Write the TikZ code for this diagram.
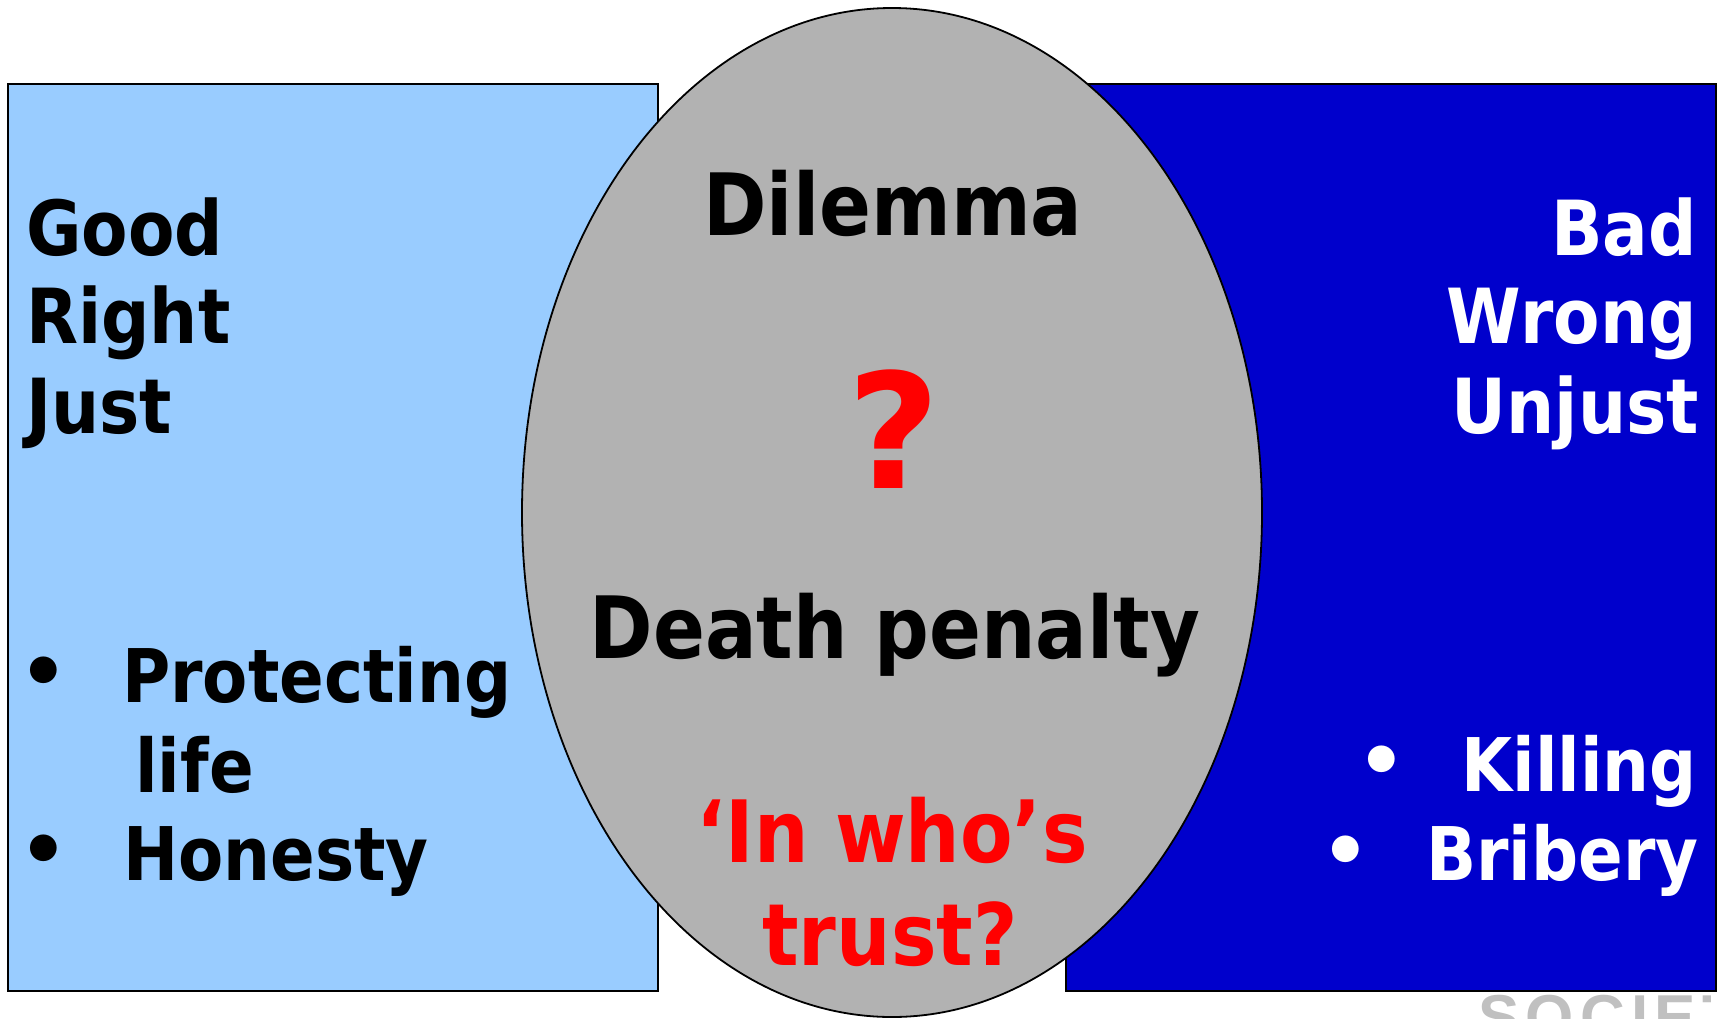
\documentclass[tikz,border=0pt]{standalone}
\usepackage{fontspec}
\newfontfamily\tah{DejaVu Sans}[FakeStretch=0.89]
\newfontfamily\tahw{DejaVu Sans}
\newfontfamily\soc{Liberation Sans}[LetterSpace=10]
\definecolor{lblue}{HTML}{99CCFF}
\definecolor{dblue}{HTML}{0000CC}
\definecolor{egray}{HTML}{B2B2B2}
\definecolor{tred}{HTML}{FF0000}
\definecolor{socgray}{HTML}{C0C0C0}
\tikzset{
  panel/.style={draw=black, line width=1.6pt},
  big/.style={inner sep=0pt, font=\tah\bfseries\fontsize{76}{90}\selectfont},
  item/.style={inner sep=0pt, font=\tah\bfseries\fontsize{74}{88}\selectfont},
  mid/.style={inner sep=0pt, font=\tah\bfseries\fontsize{86}{100}\selectfont},
  bul/.style={inner sep=0pt, font=\tahw\bfseries\fontsize{76}{88}\selectfont},
}
\begin{document}
\begin{tikzpicture}[x=1pt,y=-1pt]
\useasboundingbox (0,0) rectangle (1719,1018);
\begin{scope}
\clip (0,0) rectangle (1719,1018);
% panels
\filldraw[panel, fill=lblue] (8,84) rectangle (658,991);
\filldraw[panel, fill=dblue] (1066,84) rectangle (1716,991);
\filldraw[draw=black, line width=1.8pt, fill=egray] (892,512.5) ellipse [x radius=370, y radius=504.5];
% watermark
\begin{scope}
\clip (1400,993) rectangle (1710,1018);
\node[inner sep=0pt, anchor=base west, text=socgray, font=\soc\bfseries\fontsize{62}{70}\selectfont] (soc) at (1478,1038) {SOCIETY};
\end{scope}
\end{scope}
% left column
\node[big, anchor=base west] (good) at (26,255) {Good};
\node[big, anchor=base west] (right) at (26,343) {Right};
\node[big, anchor=base west] (just) at (26,433) {Just};
\node[bul] (b1) at (44,678) {•};
\node[item, anchor=base west] (prot) at (122,702) {Protecting};
\node[item, anchor=base west] (life) at (135,792) {life};
\node[bul] (b2) at (44,856) {•};
\node[item, anchor=base west] (hon) at (123,880) {Honesty};
% right column
\node[big, anchor=base east, text=white] (bad) at (1697,255) {Bad};
\node[big, anchor=base east, text=white] (wrong) at (1697,343) {Wrong};
\node[big, anchor=base east, text=white] (unjust) at (1699,433) {Unjust};
\node[bul, text=white] (b3) at (1382,767) {•};
\node[item, anchor=base east, text=white] (kill) at (1697,791) {Killing};
\node[bul, text=white] (b4) at (1346,857) {•};
\node[item, anchor=base east, text=white] (brib) at (1699,880) {Bribery};
% centre
\node[mid, anchor=base] (dil) at (893,235) {Dilemma};
\node[inner sep=0pt, anchor=base, text=tred, font=\tahw\bfseries\fontsize{160}{170}\selectfont] (q) at (894,488) {?};
\node[mid, anchor=base] (death) at (895,658) {Death penalty};
\node[mid, anchor=base, text=tred] (who) at (892,862) {‘In who’s};
\node[mid, anchor=base, text=tred] (trust) at (890,965) {trust?};
\end{tikzpicture}
\end{document}
